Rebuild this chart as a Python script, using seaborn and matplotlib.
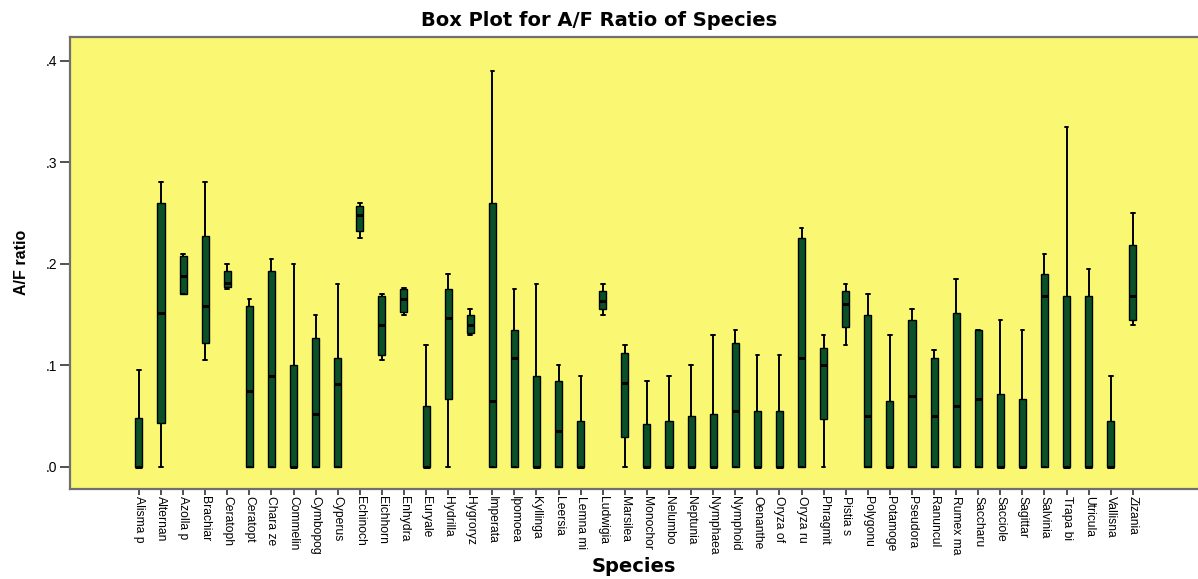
import numpy as np
import pandas as pd
import matplotlib
matplotlib.use("Agg")
import matplotlib.pyplot as plt
import seaborn as sns

species = ["Alisma p", "Alternan", "Azolla p", "Brachiar", "Ceratoph", "Ceratopt",
           "Chara ze", "Commelin", "Cymbopog", "Cyperus", "Echinoch", "Eichhorn",
           "Enhydra", "Euryale", "Hydrilla", "Hygroryz", "Imperata", "Ipomoea",
           "Kyllinga", "Leersia", "Lemna mi", "Ludwigia", "Marsilea", "Monochor",
           "Nelumbo", "Neptunia", "Nymphaea", "Nymphoid", "Oenanthe", "Oryza of",
           "Oryza ru", "Phragmit", "Pistia s", "Polygonu", "Potamoge", "Pseudora",
           "Ranuncul", "Rumex ma", "Saccharu", "Sacciole", "Sagittar", "Salvinia",
           "Trapa bi", "Utricula", "Vallisna", "Zizania"]

# five-number summaries: min, Q1, median, Q3, max
whisker_low = [0, 0, 0.170, 0.105, 0.175, 0, 0, 0, 0, 0, 0.225, 0.105,
               0.150, 0, 0, 0.130, 0, 0, 0, 0, 0, 0.150, 0, 0,
               0, 0, 0, 0, 0, 0, 0, 0, 0.120, 0, 0, 0,
               0, 0, 0, 0, 0, 0, 0, 0, 0, 0.140]
q1 = [0, 0.043, 0.170, 0.122, 0.177, 0, 0, 0, 0, 0, 0.232, 0.110,
      0.153, 0, 0.067, 0.132, 0, 0, 0, 0, 0, 0.155, 0.029, 0,
      0, 0, 0, 0, 0, 0, 0, 0.047, 0.1375, 0, 0, 0,
      0, 0, 0, 0, 0, 0, 0, 0, 0, 0.145]
median = [0, 0.152, 0.188, 0.158, 0.181, 0.075, 0.090, 0, 0.052, 0.082, 0.248, 0.140,
          0.165, 0, 0.147, 0.140, 0.065, 0.107, 0, 0.035, 0, 0.163, 0.083, 0,
          0, 0, 0, 0.055, 0, 0, 0.107, 0.100, 0.160, 0.050, 0, 0.070,
          0.050, 0.060, 0.067, 0, 0, 0.168, 0, 0, 0, 0.168]
q3 = [0.048, 0.260, 0.208, 0.227, 0.193, 0.158, 0.193, 0.100, 0.127, 0.107, 0.257, 0.168,
      0.175, 0.060, 0.175, 0.150, 0.260, 0.135, 0.090, 0.085, 0.045, 0.173, 0.1125, 0.042,
      0.045, 0.050, 0.052, 0.122, 0.055, 0.055, 0.225, 0.117, 0.173, 0.150, 0.065, 0.145,
      0.107, 0.152, 0.135, 0.072, 0.067, 0.190, 0.168, 0.168, 0.045, 0.218]
whisker_high = [0.095, 0.280, 0.210, 0.280, 0.200, 0.165, 0.205, 0.200, 0.150, 0.180, 0.260, 0.170,
                0.176, 0.120, 0.190, 0.155, 0.390, 0.175, 0.180, 0.100, 0.090, 0.180, 0.120, 0.085,
                0.090, 0.100, 0.130, 0.135, 0.110, 0.110, 0.235, 0.130, 0.180, 0.170, 0.130, 0.155,
                0.115, 0.185, 0.135, 0.145, 0.135, 0.210, 0.335, 0.195, 0.090, 0.250]

y_ticks = [0.0, 0.1, 0.2, 0.3, 0.4]
y_tick_labels = [".0", ".1", ".2", ".3", ".4"]

rows = []
for i, sp in enumerate(species):
    for v in (whisker_low[i], q1[i], median[i], q3[i], whisker_high[i]):
        rows.append({"Species": sp, "ratio": v})
df = pd.DataFrame(rows)

sns.set_theme(style="ticks", rc={"text.color": "black", "xtick.color": "black",
                                 "ytick.color": "black", "axes.labelcolor": "black"})
plt.rcParams['font.family'] = ['Liberation Sans', 'DejaVu Sans']

fig = plt.figure(figsize=(11.98, 5.79), dpi=100)
ax = fig.add_axes([70 / 1198, 1 - 489 / 579, 1 - 70 / 1198, (489 - 37) / 579])
ax.set_facecolor("#FAF773")

sns.boxplot(data=df, x="Species", y="ratio", order=species, ax=ax,
            color="#0B5128", saturation=1, linecolor="black", linewidth=1,
            width=0.32, whis=(0, 100), showfliers=False,
            medianprops={"color": "black", "linewidth": 2.2},
            whiskerprops={"color": "black", "linewidth": 1.4},
            capprops={"color": "black", "linewidth": 1.4})

ax.set_xlim(-3.12, 47.95)
ax.set_ylim(-0.0217, 0.4232)
ax.set_yticks(y_ticks)
ax.set_yticklabels(y_tick_labels, fontsize=10, color="black")
ax.set_xticks(range(len(species)))
ax.set_xticklabels(species, rotation=-90, fontsize=8.7, color="black")
ax.tick_params(axis="y", length=7, width=1.2, color="#333333", pad=2)
ax.tick_params(axis="x", length=4, width=1.2, color="#333333", pad=1)

for s in ("left", "bottom", "top"):
    ax.spines[s].set_color("#707070")
    ax.spines[s].set_linewidth(1.6)
ax.spines["right"].set_visible(False)

ax.set_xlabel("")
ax.set_ylabel("")
fig.text(0.5, 1 - 20 / 579, "Box Plot for A/F Ratio of Species", ha="center", va="center",
         fontsize=14, fontweight="bold", color="black", family=['DejaVu Sans'])
fig.text(634 / 1198, 1 - 567 / 579, "Species", ha="center", va="center",
         fontsize=14, fontweight="bold", color="black", family=['DejaVu Sans'])
fig.text(21 / 1198, 1 - 262 / 579, "A/F ratio", ha="center", va="center", rotation=90,
         fontsize=11.5, fontweight="bold", color="black", family=['Liberation Sans'])

fig.savefig("out.png", dpi=100)
